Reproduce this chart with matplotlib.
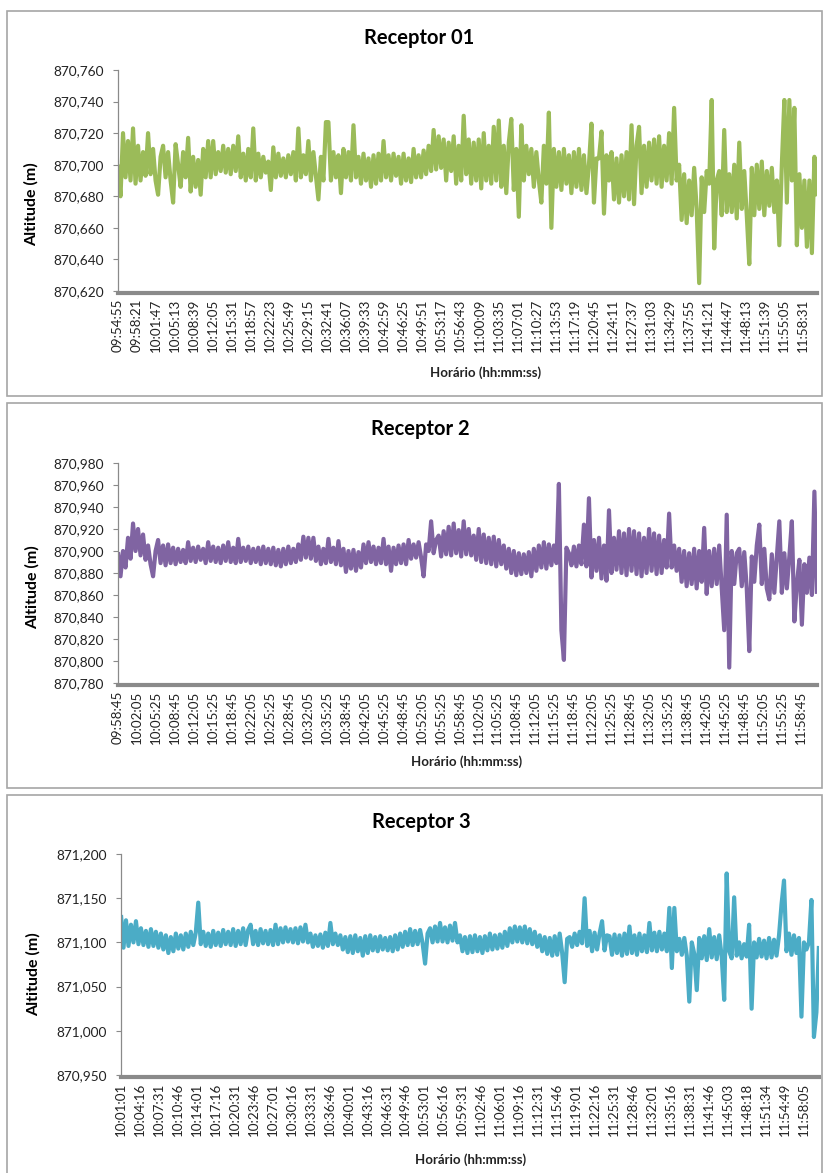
import numpy as np
import matplotlib
matplotlib.use("Agg")
import matplotlib.pyplot as plt
from matplotlib.patches import Rectangle

plt.rcParams['font.family'] = ['Lato', 'DejaVu Sans']

W, H = 823, 1173

titles = ["Receptor 01", "Receptor 2", "Receptor 3"]
colors = ["#9BBB59", "#8064A2", "#4BACC6"]
x_title = "Horário (hh:mm:ss)"
y_title = "Altitude (m)"

r1_labels = ["09:54:55", "09:58:21", "10:01:47", "10:05:13", "10:08:39", "10:12:05", "10:15:31",
             "10:18:57", "10:22:23", "10:25:49", "10:29:15", "10:32:41", "10:36:07", "10:39:33",
             "10:42:59", "10:46:25", "10:49:51", "10:53:17", "10:56:43", "11:00:09", "11:03:35",
             "11:07:01", "11:10:27", "11:13:53", "11:17:19", "11:20:45", "11:24:11", "11:27:37",
             "11:31:03", "11:34:29", "11:37:55", "11:41:21", "11:44:47", "11:48:13", "11:51:39",
             "11:55:05", "11:58:31"]
r2_labels = ["09:58:45", "10:02:05", "10:05:25", "10:08:45", "10:12:05", "10:15:25", "10:18:45",
             "10:22:05", "10:25:25", "10:28:45", "10:32:05", "10:35:25", "10:38:45", "10:42:05",
             "10:45:25", "10:48:45", "10:52:05", "10:55:25", "10:58:45", "11:02:05", "11:05:25",
             "11:08:45", "11:12:05", "11:15:25", "11:18:45", "11:22:05", "11:25:25", "11:28:45",
             "11:32:05", "11:35:25", "11:38:45", "11:42:05", "11:45:25", "11:48:45", "11:52:05",
             "11:55:25", "11:58:45"]
r3_labels = ["10:01:01", "10:04:16", "10:07:31", "10:10:46", "10:14:01", "10:17:16", "10:20:31",
             "10:23:46", "10:27:01", "10:30:16", "10:33:31", "10:36:46", "10:40:01", "10:43:16",
             "10:46:31", "10:49:46", "10:53:01", "10:56:16", "10:59:31", "11:02:46", "11:06:01",
             "11:09:16", "11:12:31", "11:15:46", "11:19:01", "11:22:16", "11:25:31", "11:28:46",
             "11:32:01", "11:35:16", "11:38:31", "11:41:46", "11:45:03", "11:48:18", "11:51:34",
             "11:54:49", "11:58:05"]

# samples between labelled categories and total samples per receptor
label_step = [206, 200, 195]
n_samples = [7570, 7370, 7180]

# altitude readings: millimetres above the base metre value
base_m = [870, 870, 871]
r1_mm = [700, 680, 720, 692, 715, 690, 723, 688, 712, 690, 708, 693, 720, 694, 710, 690,
         681, 705, 712, 692, 708, 690, 676, 713, 700, 686, 708, 692, 717, 683, 705, 686,
         703, 681, 710, 692, 715, 692, 715, 694, 708, 696, 712, 695, 710, 694, 712, 696,
         718, 692, 707, 690, 710, 692, 723, 690, 707, 692, 705, 695, 702, 684, 711, 692,
         707, 693, 704, 692, 706, 694, 708, 690, 723, 692, 706, 694, 715, 690, 708, 693,
         678, 705, 690, 727, 727, 690, 708, 692, 706, 682, 710, 692, 708, 690, 725, 692,
         705, 688, 707, 690, 704, 686, 706, 688, 707, 690, 715, 692, 706, 690, 707, 693,
         705, 688, 707, 690, 704, 689, 710, 692, 706, 692, 709, 694, 712, 696, 722, 697,
         718, 698, 716, 690, 714, 696, 718, 688, 712, 690, 731, 694, 716, 688, 714, 690,
         716, 685, 720, 690, 712, 688, 724, 690, 728, 686, 712, 682, 714, 729, 684, 710,
         667, 725, 690, 712, 694, 710, 686, 708, 690, 676, 712, 688, 733, 660, 710, 686,
         708, 684, 710, 688, 706, 682, 708, 686, 710, 684, 706, 682, 700, 726, 676, 704,
         704, 721, 669, 706, 690, 708, 678, 704, 676, 706, 680, 708, 678, 725, 675, 712,
         724, 682, 712, 686, 714, 690, 716, 688, 718, 686, 712, 690, 720, 688, 736, 690,
         700, 665, 694, 663, 690, 668, 698, 672, 625, 692, 670, 696, 688, 741, 647, 690,
         696, 668, 722, 670, 694, 670, 700, 666, 714, 672, 696, 668, 637, 698, 668, 700,
         672, 702, 668, 696, 674, 698, 670, 690, 649, 700, 741, 676, 741, 690, 736, 649,
         694, 660, 690, 648, 690, 644, 705, 680]
r2_mm = [899, 877, 900, 885, 912, 893, 925, 900, 920, 896, 915, 892, 905, 888, 877, 900,
         910, 889, 905, 887, 906, 889, 903, 888, 902, 890, 901, 889, 908, 891, 903, 890,
         904, 892, 902, 889, 908, 891, 904, 890, 903, 889, 905, 891, 908, 890, 903, 889,
         911, 890, 903, 891, 904, 889, 902, 890, 903, 888, 904, 889, 902, 888, 903, 887,
         901, 886, 902, 888, 904, 889, 902, 890, 906, 892, 913, 894, 912, 893, 912, 891,
         904, 888, 902, 889, 911, 890, 903, 888, 909, 887, 902, 881, 900, 884, 901, 882,
         899, 885, 906, 889, 908, 890, 904, 888, 903, 889, 911, 888, 904, 882, 903, 888,
         905, 889, 906, 888, 910, 893, 906, 894, 908, 894, 877, 906, 900, 927, 898, 910,
         914, 895, 918, 897, 922, 896, 925, 898, 919, 895, 927, 897, 920, 896, 914, 892,
         920, 890, 915, 889, 912, 888, 913, 886, 910, 888, 905, 884, 902, 880, 900, 878,
         898, 879, 897, 880, 899, 877, 902, 882, 905, 885, 908, 884, 906, 887, 905, 889,
         961, 828, 801, 903, 898, 887, 904, 886, 905, 888, 924, 886, 948, 876, 910, 882,
         912, 875, 905, 873, 937, 880, 912, 883, 918, 880, 916, 878, 920, 882, 918, 879,
         916, 877, 912, 880, 920, 882, 916, 879, 914, 880, 910, 885, 934, 885, 905, 882,
         902, 872, 900, 868, 898, 870, 902, 866, 900, 872, 921, 861, 900, 868, 902, 870,
         905, 866, 828, 933, 794, 900, 870, 898, 902, 868, 899, 866, 809, 895, 872, 905,
         924, 870, 902, 866, 856, 897, 862, 895, 927, 862, 898, 866, 895, 927, 836, 870,
         892, 833, 888, 862, 894, 860, 954, 861]
r3_mm = [131, 94, 125, 96, 120, 100, 124, 98, 116, 97, 113, 95, 115, 96, 112, 94,
         110, 92, 108, 88, 106, 90, 110, 93, 108, 92, 110, 95, 112, 97, 111, 145,
         98, 112, 96, 110, 95, 113, 97, 111, 96, 114, 98, 112, 97, 115, 96, 113,
         98, 116, 97, 114, 120, 98, 113, 97, 115, 99, 113, 98, 114, 97, 120, 98,
         116, 100, 117, 101, 115, 100, 116, 99, 117, 101, 120, 100, 110, 95, 108, 96,
         109, 94, 111, 96, 122, 98, 110, 97, 108, 92, 106, 89, 107, 88, 108, 90,
         105, 85, 107, 88, 108, 91, 106, 90, 107, 92, 105, 91, 106, 90, 108, 92,
         110, 95, 112, 97, 115, 97, 113, 98, 114, 99, 76, 110, 116, 100, 118, 101,
         122, 101, 117, 100, 119, 102, 122, 100, 108, 90, 106, 88, 107, 89, 108, 90,
         106, 88, 107, 91, 110, 92, 108, 93, 109, 94, 112, 96, 116, 100, 118, 101,
         117, 100, 118, 99, 115, 98, 112, 95, 108, 90, 106, 87, 105, 85, 107, 86,
         110, 88, 55, 104, 106, 95, 110, 97, 112, 99, 150, 96, 113, 90, 111, 92,
         110, 124, 91, 108, 107, 86, 109, 88, 108, 85, 110, 87, 118, 88, 108, 86,
         110, 90, 108, 89, 122, 91, 111, 90, 112, 92, 110, 90, 139, 71, 139, 90,
         104, 86, 105, 85, 33, 100, 87, 46, 105, 82, 107, 80, 115, 83, 106, 81,
         108, 84, 35, 178, 90, 82, 151, 85, 100, 82, 98, 84, 120, 25, 100, 83,
         104, 84, 102, 82, 105, 83, 103, 85, 108, 143, 170, 90, 110, 86, 108, 88,
         105, 16, 100, 92, 100, 148, -7, 21, 96]

series_mm = [r1_mm, r2_mm, r3_mm]
labels_all = [r1_labels, r2_labels, r3_labels]
# y axis ranges (mm above base) and step
y_ranges = [(620, 760, 20), (780, 980, 20), (-50, 200, 50)]

# layout in pixels: (left, right, top, bottom) of plot area
plot_px = [(118, 817, 70, 291), (118, 817, 463, 683), (121, 819, 854, 1075)]
frame_px = [(7, 822, 11, 396), (7, 822, 403, 788), (7, 822, 795, 1185)]
title_px = [(419, 38), (420, 429), (421, 822)]
xlab_px = [(486, 373), (467, 762), (471, 1160)]
ylab_px = [(31, 204), (32, 587), (33, 974)]

fig = plt.figure(figsize=(W / 100, H / 100), dpi=100)
fig.patch.set_facecolor("white")

def fx(px):
    return px / W

def fy(py):
    return 1 - py / H

for i in range(3):
    fl, fr, ft, fb = frame_px[i]
    fig.add_artist(Rectangle((fx(fl), fy(fb)), fx(fr) - fx(fl), fy(ft) - fy(fb),
                             transform=fig.transFigure, fill=False,
                             edgecolor="#A6A6A6", linewidth=1.2))

    l, r, t, b = plot_px[i]
    ax = fig.add_axes([fx(l), fy(b), fx(r) - fx(l), fy(t) - fy(b)])
    vals = base_m[i] + np.array(series_mm[i]) / 1000.0
    xs = np.linspace(0, n_samples[i] - 1, len(vals))
    ax.plot(xs, vals, color=colors[i], linewidth=3.0, solid_joinstyle="round",
            solid_capstyle="butt")

    lo, hi, st = y_ranges[i]
    ticks_mm = np.arange(lo, hi + 1, st)
    ticks = base_m[i] + ticks_mm / 1000.0
    ax.set_ylim(ticks[0], ticks[-1])
    ax.set_yticks(ticks)
    ax.set_yticklabels([f"{v:.3f}".replace(".", ",") for v in ticks])
    ax.set_xlim(0, n_samples[i])
    ax.set_xticks(np.arange(len(labels_all[i])) * label_step[i])
    ax.set_xticklabels(labels_all[i])

    for s in ["top", "right"]:
        ax.spines[s].set_visible(False)
    ax.spines["left"].set_color("#8A8A8A")
    ax.spines["left"].set_linewidth(0.9)
    ax.spines["bottom"].set_color("#8A8A8A")
    ax.spines["bottom"].set_linewidth(3.0)
    ax.spines["bottom"].set_position(("outward", 1.5))
    ax.tick_params(axis="y", direction="out", length=3.6, width=0.8, color="#8A8A8A",
                   pad=6.5, labelsize=9.8, labelcolor="#222222")
    ax.tick_params(axis="x", length=0, pad=4, labelrotation=90, labelsize=9.6,
                   labelcolor="#222222")

    tx, ty = title_px[i]
    fig.text(fx(tx), fy(ty), titles[i], ha="center", va="center",
             fontsize=14.5, fontweight="bold", color="black")
    xx, xy = xlab_px[i]
    fig.text(fx(xx), fy(xy), x_title, ha="center", va="center",
             fontsize=9.5, fontweight="bold", color="#222222")
    yx, yy = ylab_px[i]
    fig.text(fx(yx), fy(yy), y_title, ha="center", va="center", rotation=90,
             fontsize=11.5, fontweight="bold", color="black")

fig.savefig("out.png", dpi=100, facecolor="white")
